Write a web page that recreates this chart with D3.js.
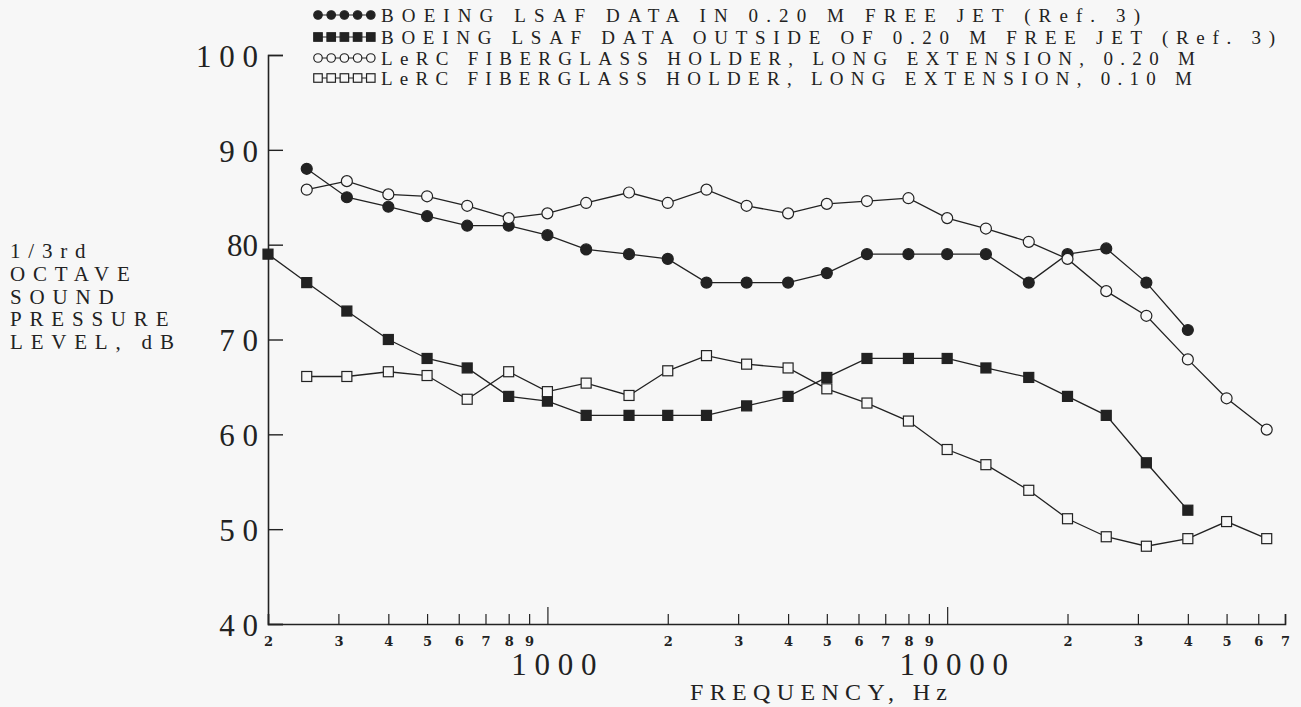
<!DOCTYPE html>
<html><head><meta charset="utf-8">
<script src="https://cdn.jsdelivr.net/npm/d3@7"></script>
<style>
body{margin:0;background:#f7f7f7;}
svg{display:block;}
text{font-family:"Liberation Serif","DejaVu Serif",serif;fill:#222;}
</style></head>
<body>
<svg id="c" width="1301" height="707"></svg>
<script>
const freqs = [200,250,315,400,500,630,800,1000,1250,1600,2000,2500,3150,4000,5000,6300,8000,10000,12500,16000,20000,25000,31500,40000,50000,63000];
// Boeing LSAF in 0.20 m free jet (filled circles), 250 .. 40000
const boeingIn = [null,88,85,84,83,82,82,81,79.5,79,78.5,76,76,76,77,79,79,79,79,76,79,79.6,76,71,null,null];
// Boeing LSAF outside of 0.20 m free jet (filled squares), 200 .. 40000
const boeingOut = [79,76,73,70,68,67,64,63.5,62,62,62,62,63,64,66,68,68,68,67,66,64,62,57,52,null,null];
// LeRC fiberglass holder, long extension, 0.20 m (open circles)
const lerc20 = [null,85.8,86.7,85.3,85.1,84.1,82.8,83.3,84.4,85.5,84.4,85.8,84.1,83.3,84.3,84.6,84.9,82.8,81.7,80.3,78.5,75.1,72.5,67.9,63.8,60.5];
// LeRC fiberglass holder, long extension, 0.10 m (open squares)
const lerc10 = [null,66.1,66.1,66.6,66.2,63.7,66.6,64.5,65.4,64.1,66.7,68.3,67.4,67,64.8,63.3,61.4,58.4,56.8,54.1,51.1,49.2,48.2,49,50.8,49];

const yTicks = [40,50,60,70,80,90,100];
const yTickLabels = ["4 0","5 0","6 0","7 0","80","9 0","1 0 0"];
const minorTicks = [200,300,400,500,600,700,800,900,2000,3000,4000,5000,6000,7000,8000,9000,20000,30000,40000,50000,60000,70000];
const majorTicks = [1000,10000];
const majorLabels = ["1 0 0 0","1 0 0 0 0"];
const legendLabels = [
  "BOEING LSAF DATA IN 0.20 M FREE JET (Ref. 3)",
  "BOEING LSAF DATA OUTSIDE OF 0.20 M FREE JET (Ref. 3)",
  "LeRC FIBERGLASS HOLDER, LONG EXTENSION, 0.20 M",
  "LeRC FIBERGLASS HOLDER, LONG EXTENSION, 0.10 M"
];
const yLabelLines = ["1/3rd","OCTAVE","SOUND","PRESSURE","LEVEL, dB"];
const xTitle = "FREQUENCY, Hz";

const svg = d3.select("#c");
const x = d3.scaleLog().domain([200,70000]).range([268,1285]);
const y = d3.scaleLinear().domain([40,100]).range([624,55]);
const ink = "#222";

// X axis minor ticks
const gx = svg.append("g").attr("transform","translate(0,"+y(40)+")")
  .call(d3.axisBottom(x).tickValues(minorTicks).tickSize(-10).tickPadding(13)
    .tickFormat(d => String(Math.round(d/Math.pow(10,Math.floor(Math.log10(d)+1e-9))))));
gx.select(".domain").attr("stroke",ink).attr("stroke-width",1.6);
gx.selectAll(".tick line").attr("stroke",ink).attr("stroke-width",1.2);
gx.selectAll(".tick text").attr("font-size",13).attr("font-weight","bold").style("font-family","'DejaVu Serif',serif").attr("fill",ink);

const gx2 = svg.append("g").attr("transform","translate(0,"+y(40)+")")
  .call(d3.axisBottom(x).tickValues(majorTicks).tickSize(-17).tickPadding(40)
    .tickFormat((d,i)=>majorLabels[i]));
gx2.select(".domain").remove();
gx2.selectAll(".tick line").attr("stroke",ink).attr("stroke-width",1.2);
gx2.selectAll(".tick text").attr("font-size",31).attr("fill",ink).attr("dy","0.35em").attr("dx",6);

// Y axis
const gy = svg.append("g").attr("transform","translate("+x(200)+",0)")
  .call(d3.axisLeft(y).tickValues(yTicks).tickSize(-15).tickPadding(10)
    .tickFormat((d,i)=>yTickLabels[i]));
gy.select(".domain").attr("stroke",ink).attr("stroke-width",1.6);
gy.selectAll(".tick line").attr("stroke",ink).attr("stroke-width",1.4);
gy.selectAll(".tick text").attr("font-size",31).attr("fill",ink).attr("dy","0.36em");

// axis titles
svg.append("text").attr("x",690).attr("y",700)
  .attr("font-size",24).attr("textLength",257).attr("lengthAdjust","spacing").text(xTitle);
const yl = svg.append("text").attr("x",10).attr("y",258).attr("font-size",21).style("letter-spacing","7.8px");
yl.selectAll("tspan").data(yLabelLines).enter().append("tspan")
  .attr("x",10).attr("dy",(d,i)=>i===0?0:22.8).text(d=>d);

// series
const series = [
  {vals:boeingIn, shape:"circle", fill:ink},
  {vals:boeingOut, shape:"square", fill:ink},
  {vals:lerc20, shape:"circle", fill:"none"},
  {vals:lerc10, shape:"square", fill:"none"}
];
const line = d3.line().defined(d=>d[1]!=null).x(d=>x(d[0])).y(d=>y(d[1]));
function marker(g, shape, fill, cx, cy, s){
  if(shape==="circle"){
    g.append("circle").attr("cx",cx).attr("cy",cy).attr("r",s/2)
     .attr("fill",fill==="none"?"#f7f7f7":fill).attr("stroke",ink).attr("stroke-width",1.2);
  } else {
    g.append("rect").attr("x",cx-s/2).attr("y",cy-s/2).attr("width",s).attr("height",s)
     .attr("fill",fill==="none"?"#f7f7f7":fill).attr("stroke",ink).attr("stroke-width",1.2);
  }
}
series.forEach(s=>{
  const pts = freqs.map((f,i)=>[f,s.vals[i]]);
  svg.append("path").datum(pts).attr("d",line).attr("fill","none").attr("stroke",ink).attr("stroke-width",1.3);
});
series.forEach(s=>{
  const g = svg.append("g");
  freqs.forEach((f,i)=>{ if(s.vals[i]!=null) marker(g,s.shape,s.fill,x(f),y(s.vals[i]), s.shape==="circle"?11:10); });
});

// legend
const legY = [15,37,58,78];
const legEnd = [1140,1275,1195,1192];
legendLabels.forEach((t,i)=>{
  const s = series[i];
  const g = svg.append("g");
  g.append("line").attr("x1",318).attr("x2",372).attr("y1",legY[i]).attr("y2",legY[i]).attr("stroke",ink).attr("stroke-width",1);
  for(let k=0;k<5;k++){ marker(g,s.shape,s.fill,318+k*13.2,legY[i], 8.5); }
  svg.append("text").attr("x",381).attr("y",legY[i]+7).attr("font-size",19)
    .attr("textLength",legEnd[i]-381).attr("lengthAdjust","spacing").text(t);
});
</script>
</body></html>
